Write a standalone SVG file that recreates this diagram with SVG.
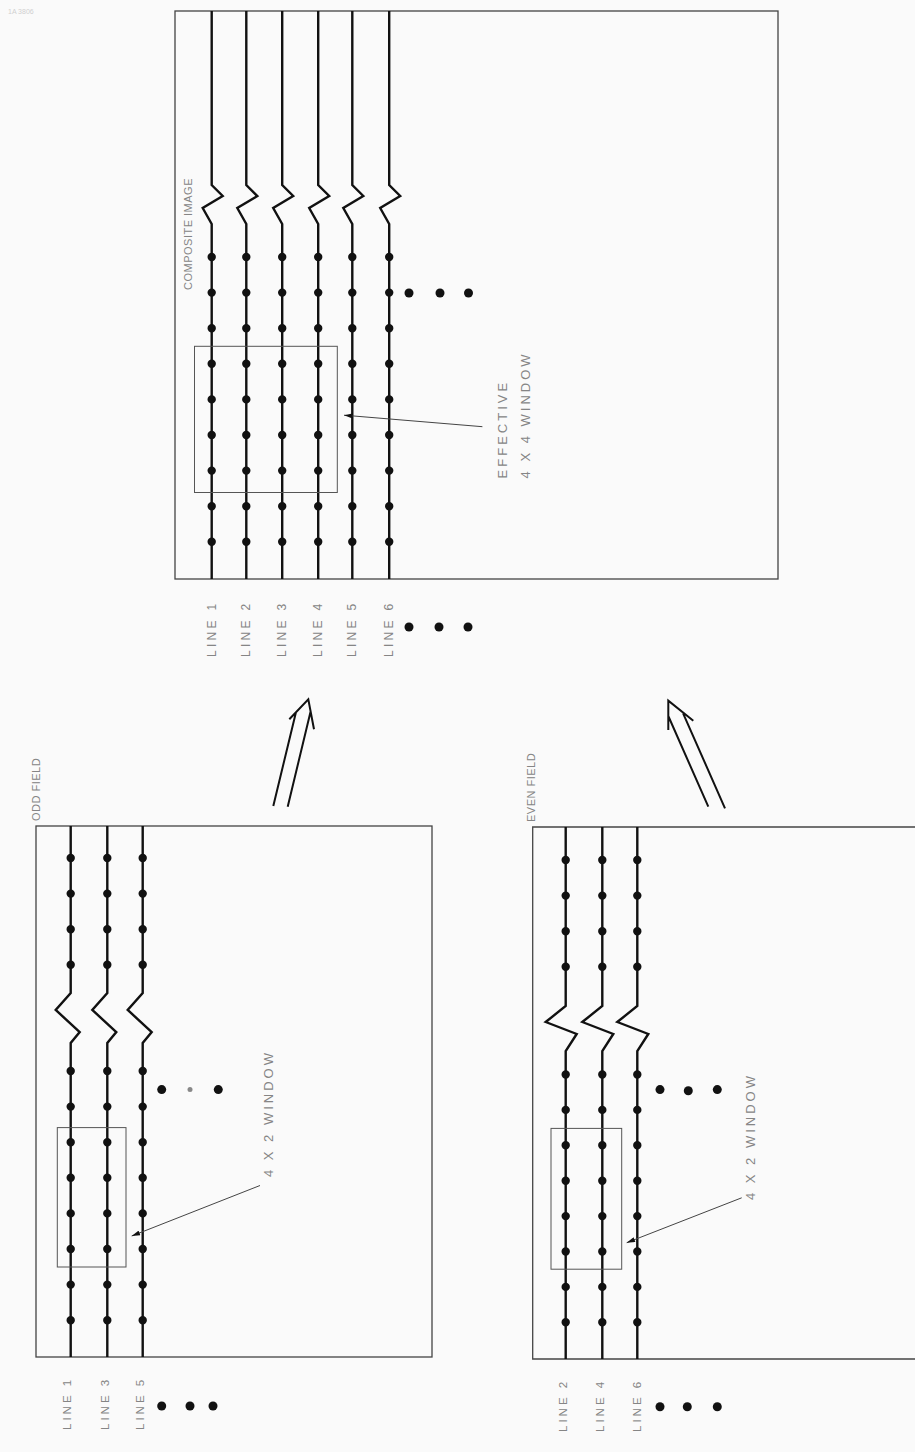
<svg xmlns="http://www.w3.org/2000/svg" width="915" height="1452" viewBox="0 0 915 1452">
<style>
.bg{fill:#fafafa}
.box{fill:none;stroke:#444;stroke-width:1.3}
.win{fill:none;stroke:#555;stroke-width:1}
.ln{fill:none;stroke:#111;stroke-width:2.4;stroke-linejoin:miter}
.dots{fill:none;stroke:#111;stroke-width:8.4;stroke-linecap:round}
.ell{fill:#111}
.lead{fill:none;stroke:#444;stroke-width:1}
.arr{fill:none;stroke:#111;stroke-width:2}
.t{font-family:"Liberation Sans",Arial,sans-serif;fill:#858585}
.lbl{font-size:12px;letter-spacing:3.3px}
.lbs{font-size:11.5px;letter-spacing:3px}
.win-t{font-size:13px;letter-spacing:3px}
.ttl{font-size:11px;letter-spacing:0.5px}
</style>
<defs>
<marker id="ah" viewBox="0 0 10 6" refX="0" refY="3" markerWidth="10" markerHeight="5" markerUnits="userSpaceOnUse" orient="auto">
<path d="M0,3 L10,0 L10,6 z" fill="#111"/>
</marker>
</defs>
<rect class="bg" x="0" y="0" width="915" height="1452"/>
<text class="t" x="8" y="14" font-size="7" style="fill:#d0d0d0">1A  3806</text>

<g id="composite">
<rect class="box" x="175" y="11" width="603" height="568"/>
<text class="t ttl" transform="rotate(-90 192 290)" x="192" y="290">COMPOSITE IMAGE</text>
<path class="ln" d="M211.7,11 V185 L222.7,196 L202.7,208 L211.7,224 V579"/>
<path class="ln" d="M246.3,11 V185 L257.3,196 L237.3,208 L246.3,224 V579"/>
<path class="ln" d="M282.2,11 V185 L293.2,196 L273.2,208 L282.2,224 V579"/>
<path class="ln" d="M318.2,11 V185 L329.2,196 L309.2,208 L318.2,224 V579"/>
<path class="ln" d="M352.3,11 V185 L363.3,196 L343.3,208 L352.3,224 V579"/>
<path class="ln" d="M389.2,11 V185 L400.2,196 L380.2,208 L389.2,224 V579"/>
<path class="dots" stroke-dasharray="0 35.6" d="M211.7,257 V542 M246.3,257 V542 M282.2,257 V542 M318.2,257 V542 M352.3,257 V542 M389.2,257 V542"/>
<circle class="ell" cx="409" cy="293" r="4.5"/>
<circle class="ell" cx="440" cy="293" r="4.5"/>
<circle class="ell" cx="468.5" cy="293" r="4.5"/>
<rect class="win" x="194.5" y="346.3" width="142.8" height="146.2"/>
<path class="lead" marker-start="url(#ah)" d="M344,415.2 L482.4,426.7"/>
<text class="t win-t" transform="rotate(-90 507 478.4)" x="507" y="478.4">EFFECTIVE</text>
<text class="t win-t" transform="rotate(-90 530 478.4)" x="530" y="478.4">4 X 4 WINDOW</text>
<text class="t lbl" transform="rotate(-90 215.7 657)" x="215.7" y="657">LINE 1</text>
<text class="t lbl" transform="rotate(-90 250.3 657)" x="250.3" y="657">LINE 2</text>
<text class="t lbl" transform="rotate(-90 286.3 657)" x="286.3" y="657">LINE 3</text>
<text class="t lbl" transform="rotate(-90 322.3 657)" x="322.3" y="657">LINE 4</text>
<text class="t lbl" transform="rotate(-90 356.3 657)" x="356.3" y="657">LINE 5</text>
<text class="t lbl" transform="rotate(-90 393.3 657)" x="393.3" y="657">LINE 6</text>
<circle class="ell" cx="409" cy="627" r="4.5"/>
<circle class="ell" cx="439" cy="627" r="4.5"/>
<circle class="ell" cx="468" cy="627" r="4.5"/>
</g>

<g id="odd-field">
<rect class="box" x="36" y="826" width="396" height="531"/>
<text class="t ttl" transform="rotate(-90 40 821)" x="40" y="821">ODD FIELD</text>
<path class="ln" d="M70.7,826 V993 L55.7,1010 L79.7,1032 L70.7,1043 V1357"/>
<path class="ln" d="M107.3,826 V993 L92.3,1010 L116.3,1032 L107.3,1043 V1357"/>
<path class="ln" d="M142.7,826 V993 L127.7,1010 L151.7,1032 L142.7,1043 V1357"/>
<path class="dots" stroke-dasharray="0 35.6" d="M70.7,858 V965 M107.3,858 V965 M142.7,858 V965 M70.7,1071 V1320.5 M107.3,1071 V1320.5 M142.7,1071 V1320.5"/>
<circle class="ell" cx="161.7" cy="1089.6" r="4.5"/>
<circle cx="190" cy="1089.6" r="2.5" fill="#888"/>
<circle class="ell" cx="218.3" cy="1089.6" r="4.5"/>
<rect class="win" x="57.3" y="1127.6" width="68.7" height="139.4"/>
<path class="lead" marker-start="url(#ah)" d="M131.7,1236 L260,1185.5"/>
<text class="t win-t" transform="rotate(-90 273 1177)" x="273" y="1177">4 X 2 WINDOW</text>
<text class="t lbs" transform="rotate(-90 70.7 1430)" x="70.7" y="1430">LINE 1</text>
<text class="t lbs" transform="rotate(-90 109 1430)" x="109" y="1430">LINE 3</text>
<text class="t lbs" transform="rotate(-90 144 1430)" x="144" y="1430">LINE 5</text>
<circle class="ell" cx="161.7" cy="1406" r="4.5"/>
<circle class="ell" cx="190" cy="1406" r="4.5"/>
<circle class="ell" cx="213" cy="1406" r="4.5"/>
</g>

<g id="even-field">
<path class="box" d="M920,827 H532.7 V1359 H920"/>
<text class="t ttl" transform="rotate(-90 535 822)" x="535" y="822">EVEN FIELD</text>
<path class="ln" d="M565.7,827 V1006 L545.7,1022 L576.7,1034 L565.7,1051 V1359"/>
<path class="ln" d="M602.3,827 V1006 L582.3,1022 L613.3,1034 L602.3,1051 V1359"/>
<path class="ln" d="M637.3,827 V1006 L617.3,1022 L648.3,1034 L637.3,1051 V1359"/>
<path class="dots" stroke-dasharray="0 35.6" d="M565.7,860 V967 M602.3,860 V967 M637.3,860 V967"/>
<path class="dots" stroke-dasharray="0 35.4" d="M565.7,1074.5 V1322.5 M602.3,1074.5 V1322.5 M637.3,1074.5 V1322.5"/>
<circle class="ell" cx="660" cy="1089.6" r="4.5"/>
<circle class="ell" cx="688.3" cy="1090.8" r="4.5"/>
<circle class="ell" cx="717.3" cy="1089.6" r="4.5"/>
<rect class="win" x="551" y="1128.4" width="70.7" height="140.8"/>
<path class="lead" marker-start="url(#ah)" d="M626.7,1242.7 L741.7,1197.8"/>
<text class="t win-t" transform="rotate(-90 754.5 1200)" x="754.5" y="1200">4 X 2 WINDOW</text>
<text class="t lbs" transform="rotate(-90 567.3 1432)" x="567.3" y="1432">LINE 2</text>
<text class="t lbs" transform="rotate(-90 604 1432)" x="604" y="1432">LINE 4</text>
<text class="t lbs" transform="rotate(-90 640.7 1432)" x="640.7" y="1432">LINE 6</text>
<circle class="ell" cx="660" cy="1406.7" r="4.5"/>
<circle class="ell" cx="687.3" cy="1406.7" r="4.5"/>
<circle class="ell" cx="717.3" cy="1406.7" r="4.5"/>
</g>

<g id="connectors">
<path class="arr" d="M273.3,806 L295.9,712.4 M289.3,719.3 L308.3,699.3 L314,729.3 M310.6,711.6 L287.7,806.7"/>
<path class="arr" d="M668.3,730 L668.3,700.7 L693.3,720.7 M668.3,716 L708.3,806.7 M683.1,713.3 L725,808.3"/>
</g>
</svg>
